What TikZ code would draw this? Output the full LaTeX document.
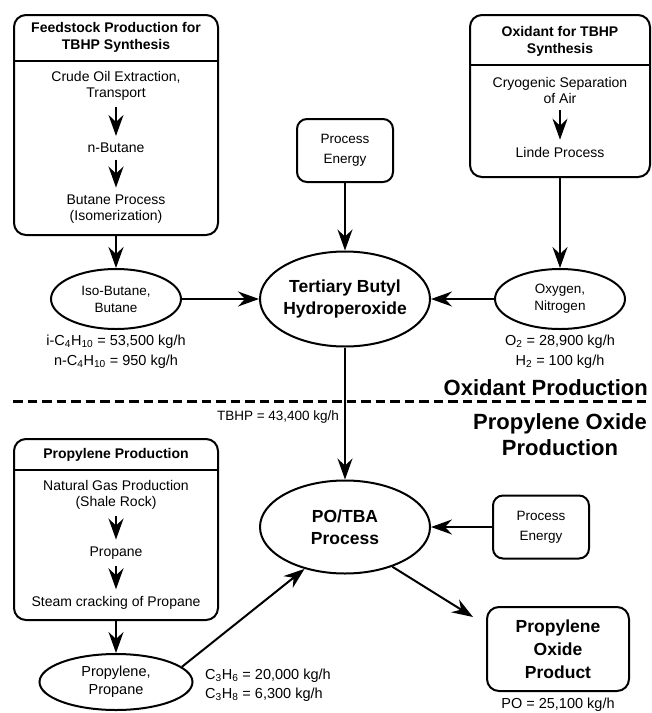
\documentclass[tikz,border=0pt]{standalone}
\usepackage{fontspec}
\setmainfont{Liberation Sans}
\usepackage{tikz}
\usetikzlibrary{arrows.meta,positioning,calc,shapes.geometric}

\begin{document}
\begin{tikzpicture}[
  x=1pt, y=-1pt,
  every node/.style={inner sep=0pt},
  lbl/.style={align=center, font=\fontsize{14}{16}\selectfont},
  ttl/.style={align=center, font=\bfseries\fontsize{14}{17}\selectfont},
  flowlbl/.style={align=center, font=\fontsize{14.5}{20}\selectfont},
  zone/.style={align=center, font=\bfseries\fontsize{22}{26}\selectfont},
  group/.style={draw, line width=2pt, rounded corners=12pt, minimum width=204pt},
  energy/.style={draw, line width=2pt, rounded corners=10pt, minimum width=96pt, minimum height=63pt, align=center, font=\fontsize{13.5}{19.5}\selectfont},
  stream/.style={draw, ellipse, line width=2pt, minimum width=130pt, minimum height=60pt, align=center, font=\fontsize{13.5}{17}\selectfont},
  unit/.style={draw, ellipse, line width=2pt, minimum width=170pt, minimum height=95pt, inner xsep=-4pt, align=center, font=\bfseries\fontsize{17.5}{22}\selectfont},
  product/.style={draw, line width=2pt, rounded corners=12pt, minimum width=142pt, minimum height=84pt, align=center, font=\bfseries\fontsize{17.5}{23}\selectfont},
  arr/.style={-{Stealth[length=21pt,width=15pt,inset=7pt]}, line width=2pt},
  sub/.style={arr, shorten <=6.5pt, shorten >=7pt}
]
\useasboundingbox (0,0) rectangle (652,713);

% oxidant production
\node[group, minimum height=220pt] (feedbox) at (116,125) {};
\node[ttl] (feedttl) at (116,37.5) {Feedstock Production for\\TBHP Synthesis};
\node[lbl] (crude) at (116,86) {Crude Oil Extraction,\\Transport};
\node[lbl] (nbutane) at (116,148) {n-Butane};
\node[lbl] (butproc) at (116,209) {Butane Process\\(Isomerization)};
\draw[line width=1.6pt] (14,61) -- (218,61);

\node[group, minimum width=180pt, minimum height=162pt] (oxbox) at (560,96) {};
\node[ttl] (oxttl) at (560,41.5) {Oxidant for TBHP\\Synthesis};
\node[lbl] (cryo) at (560,90) {Cryogenic Separation\\of Air};
\node[lbl] (linde) at (560,152) {Linde Process};
\draw[line width=1.6pt] (470,65) -- (650,65);

\node[energy] (energy1) at (345,150.5) {Process\\Energy};
\node[stream] (isobutane) at (116,299) {Iso-Butane,\\Butane};
\node[stream] (oxygen) at (560,299) {Oxygen,\\Nitrogen};
\node[unit] (tbhp) at (345,299) {Tertiary Butyl\\Hydroperoxide};
\node[flowlbl] (isolbl) at (116,352) {i-C\textsubscript{4}H\textsubscript{10} = 53,500 kg/h\\n-C\textsubscript{4}H\textsubscript{10} = 950 kg/h};
\node[flowlbl] (oxlbl) at (560,352) {O\textsubscript{2} = 28,900 kg/h\\H\textsubscript{2} = 100 kg/h};

% split between the two zones
\node[zone, anchor=east] (oxzone) at (648,388) {Oxidant Production};
\draw[line width=3pt, dash pattern=on 9.5pt off 5pt] (13,401) -- (650,401);
\node[zone] (pozone) at (560,435) {Propylene Oxide\\Production};

% propylene oxide production
\node[group, minimum height=181pt] (propbox) at (116,529.5) {};
\node[ttl] (propttl) at (116,455) {Propylene Production};
\node[lbl] (natgas) at (116,495) {Natural Gas Production\\(Shale Rock)};
\node[lbl] (propane) at (116,553) {Propane};
\node[lbl] (steam) at (116,603) {Steam cracking of Propane};
\draw[line width=1.6pt] (14,470) -- (218,470);

\node[stream, minimum width=153pt, minimum height=56pt, font=\fontsize{14.5}{18}\selectfont] (propylene) at (116,682) {Propylene,\\Propane};
\node[unit, minimum height=93pt] (potba) at (345,527) {PO/TBA\\Process};
\node[energy] (energy2) at (541,527) {Process\\Energy};
\node[product] (poproduct) at (558,649) {Propylene\\Oxide\\Product};
\node[flowlbl] (polbl) at (558,705) {PO = 25,100 kg/h};
\node[flowlbl, anchor=west, align=left, font=\fontsize{14.5}{19}\selectfont] (c3lbl) at (205,685) {C\textsubscript{3}H\textsubscript{6} = 20,000 kg/h\\C\textsubscript{3}H\textsubscript{8} = 6,300 kg/h};

\foreach \a/\b in {crude/nbutane,nbutane/butproc,cryo/linde,natgas/propane,propane/steam}{\draw[sub] (\a) -- (\b);}
\foreach \a/\b in {feedbox/isobutane,oxbox/oxygen,propbox/propylene,isobutane/tbhp,oxygen/tbhp,energy1/tbhp,energy2/potba}{\draw[arr] (\a) -- (\b);}
\draw[arr] (tbhp) -- (potba)
  node[pos=0.53, left=5pt, font=\fontsize{13.5}{15}\selectfont] {TBHP = 43,400 kg/h};
\draw[arr] (propylene.13) -- (potba.226);
\draw[arr] (potba.-40) -- ([shift={(-13,11)}]poproduct.north west);
\end{tikzpicture}
\end{document}
